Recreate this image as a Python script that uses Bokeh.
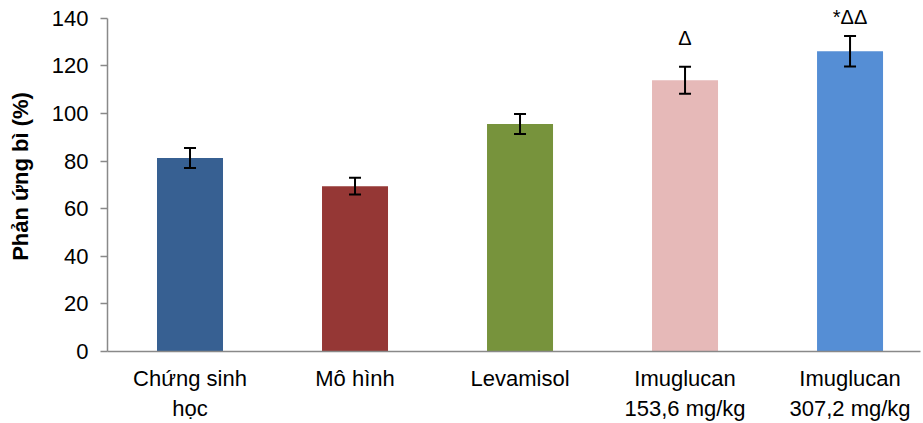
from bokeh.plotting import figure
from bokeh.models import ColumnDataSource, Whisker, TeeHead, Range1d, FixedTicker, LabelSet
from bokeh.core.properties import value
from bokeh.embed import file_html
from bokeh.resources import INLINE

# ---- data ----
categories = ["Chứng sinh\nhọc", "Mô hình", "Levamisol",
              "Imuglucan\n153,6 mg/kg", "Imuglucan\n307,2 mg/kg"]
means = [81.3, 69.5, 95.6, 114.0, 126.2]
errors = [4.2, 3.5, 4.2, 5.7, 6.4]
colors = ["#376092", "#953735", "#77933C", "#E6B9B8", "#558ED5"]
sig_marks = ["", "", "", "Δ", "*ΔΔ"]
sig_heights = [0, 0, 0, 127, 135.8]
y_ticks = [0, 20, 40, 60, 80, 100, 120, 140]

FONT = "Liberation Sans"
positions = [i + 0.5 for i in range(len(categories))]

src = ColumnDataSource(dict(
    x=positions, top=means,
    upper=[m + e for m, e in zip(means, errors)],
    lower=[m - e for m, e in zip(means, errors)],
    color=colors, mark=sig_marks, mark_y=sig_heights,
))

p = figure(width=921, height=423, output_backend="svg", toolbar_location=None,
           x_range=Range1d(0, 4.927), y_range=Range1d(0, 147.1),
           min_border_left=107, min_border_right=1, min_border_top=1,
           min_border_bottom=72)

p.vbar(x="x", top="top", bottom=0, width=0.4, color="color", line_color=None, source=src)

w = Whisker(base="x", upper="upper", lower="lower", source=src,
            line_color="black", line_width=2, level="overlay",
            upper_head=TeeHead(size=12, line_color="black", line_width=2),
            lower_head=TeeHead(size=12, line_color="black", line_width=2))
p.add_layout(w)

labels = LabelSet(x="x", y="mark_y", text="mark", source=src, text_align="center",
                  text_baseline="bottom", text_font=value(FONT),
                  text_font_size=value("20px"), text_color="black", level="overlay")
p.add_layout(labels)

p.outline_line_color = None
p.grid.visible = False
p.background_fill_color = "white"

# y axis
ya = p.yaxis[0]
ya.ticker = FixedTicker(ticks=y_ticks)
ya.bounds = (0, 140)
ya.axis_line_color = "#898989"
ya.axis_line_width = 1.5
ya.major_tick_line_color = "#898989"
ya.major_tick_line_width = 1.5
ya.major_tick_out = 7
ya.major_tick_in = 0
ya.minor_tick_line_color = None
ya.major_label_text_font = FONT
ya.major_label_text_font_size = "22px"
ya.major_label_text_color = "black"
ya.major_label_standoff = 12
ya.axis_label = "Phản ứng bì (%)"
ya.axis_label_text_font = FONT
ya.axis_label_text_font_style = "bold"
ya.axis_label_text_font_size = "22px"
ya.axis_label_text_color = "black"
ya.axis_label_standoff = 16

# x axis
xa = p.xaxis[0]
xa.ticker = FixedTicker(ticks=positions)
xa.major_label_overrides = {pos: lab for pos, lab in zip(positions, categories)}
xa.axis_line_color = "#898989"
xa.axis_line_width = 1.5
xa.major_tick_line_color = None
xa.minor_tick_line_color = None
xa.major_label_text_font = FONT
xa.major_label_text_font_size = "22px"
xa.major_label_text_color = "black"
xa.major_label_standoff = 8

open("out.html", "w").write(file_html(p, INLINE))
